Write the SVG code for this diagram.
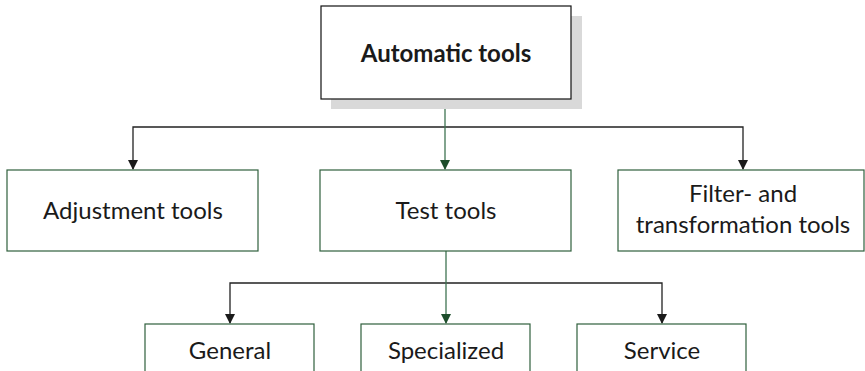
<svg xmlns="http://www.w3.org/2000/svg" width="865" height="371" viewBox="0 0 865 371">
<style>
.box{fill:#fff;stroke:#2f5f3c;stroke-width:1.2}
.top{fill:#fff;stroke:#111;stroke-width:1.2}
.t{font-family:Lato,"Open Sans",sans-serif;font-size:24px;fill:#1a1a1a;text-anchor:middle}
.b{font-weight:bold}
.k{fill:none;stroke:#222;stroke-width:1.3}
.g{fill:none;stroke:#3f7352;stroke-width:1.3}
</style>
<defs>
<marker id="ak" markerWidth="10" markerHeight="10" refX="9" refY="5" orient="auto" markerUnits="userSpaceOnUse"><path d="M0,0 L10,5 L0,10 z" fill="#1a1a1a"/></marker>
<marker id="ag" markerWidth="10" markerHeight="10" refX="9" refY="5" orient="auto" markerUnits="userSpaceOnUse"><path d="M0,0 L10,5 L0,10 z" fill="#1d4d2b"/></marker>
</defs>
<g id="connectors">
<path class="k" d="M445,127 H133 V169" marker-end="url(#ak)"/>
<path class="k" d="M445,127 H743 V169" marker-end="url(#ak)"/>
<path class="g" d="M445,99 V169" marker-end="url(#ag)"/>
<path class="k" d="M446,283 H230 V323" marker-end="url(#ak)"/>
<path class="k" d="M446,283 H662 V323" marker-end="url(#ak)"/>
<path class="g" d="M446,251 V323" marker-end="url(#ag)"/>
</g>
<g id="automatic">
<rect x="331" y="16" width="251" height="93" fill="#d9d9d9"/>
<rect class="top" x="321" y="6" width="250" height="93"/>
<text class="t b" x="446" y="62">Automatic tools</text>
</g>
<g id="adjustment">
<rect class="box" x="7" y="170" width="251" height="81"/>
<text class="t" x="133" y="219">Adjustment tools</text>
</g>
<g id="test">
<rect class="box" x="320" y="170" width="251" height="81"/>
<text class="t" x="446" y="219">Test tools</text>
</g>
<g id="filter">
<rect class="box" x="618" y="170" width="246" height="81"/>
<text class="t" x="743" y="202">Filter- and</text>
<text class="t" x="743" y="233">transformation tools</text>
</g>
<g id="general">
<rect class="box" x="145" y="324" width="169" height="60"/>
<text class="t" x="230" y="359">General</text>
</g>
<g id="specialized">
<rect class="box" x="361" y="324" width="169" height="60"/>
<text class="t" x="446" y="359">Specialized</text>
</g>
<g id="service">
<rect class="box" x="577" y="324" width="169" height="60"/>
<text class="t" x="662" y="359">Service</text>
</g>
</svg>
